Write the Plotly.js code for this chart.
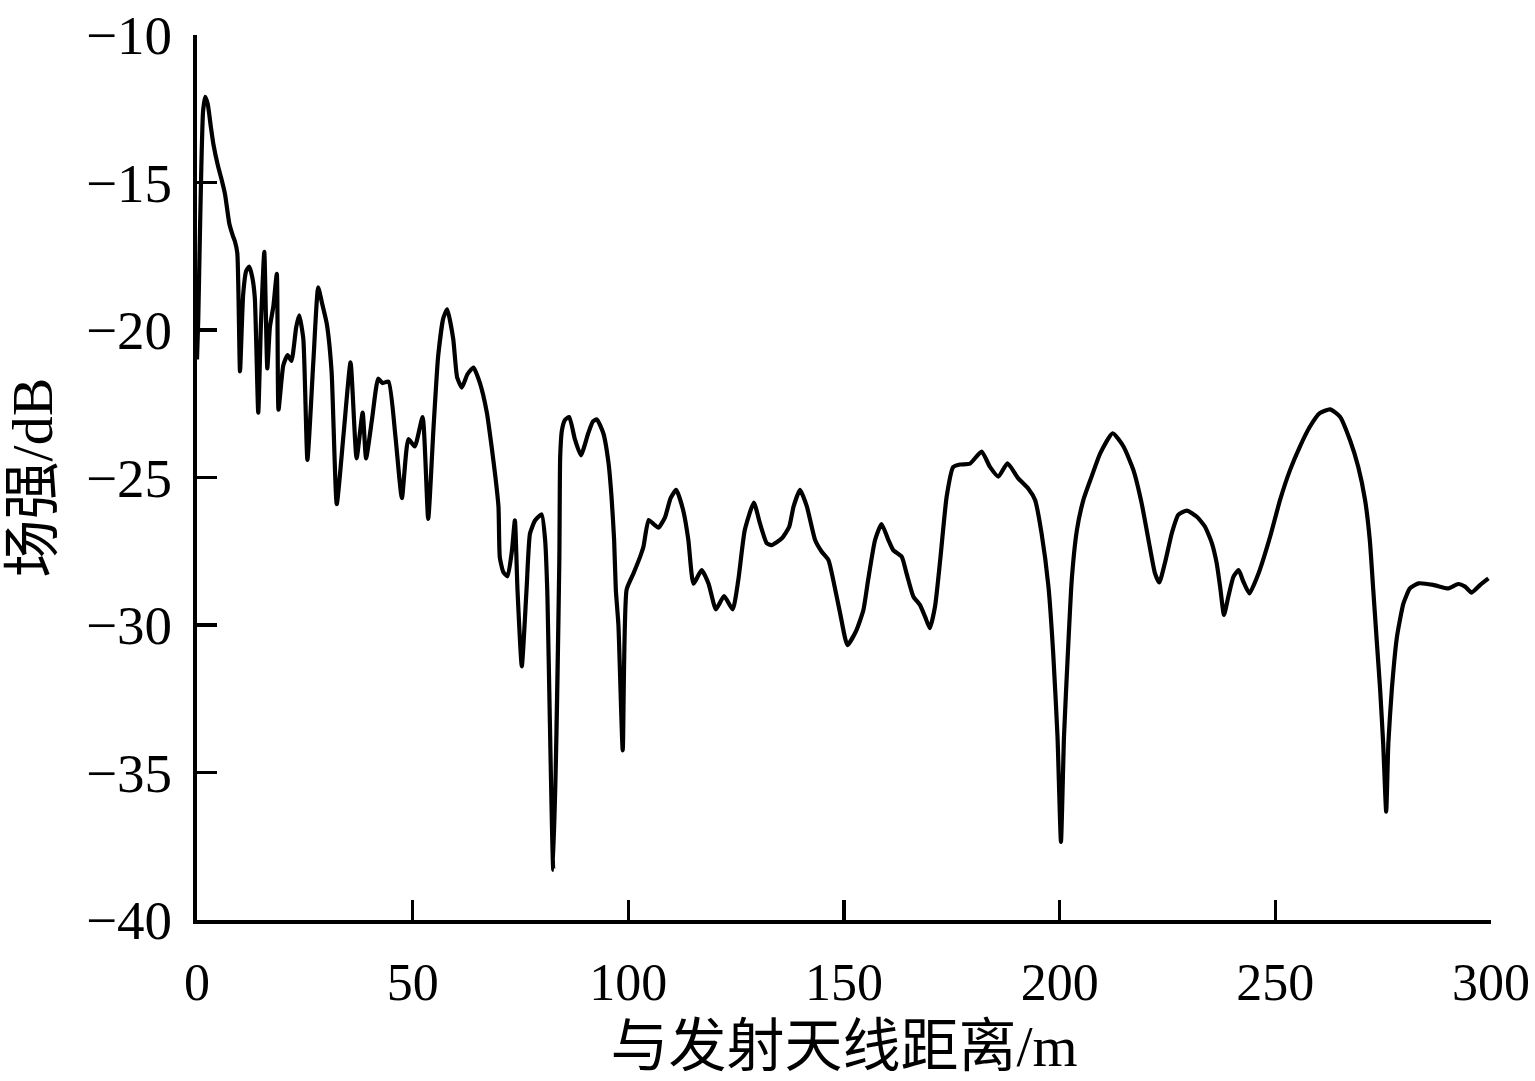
<!DOCTYPE html>
<html>
<head>
<meta charset="utf-8">
<script src="https://cdn.plot.ly/plotly-3.0.1.min.js"></script>
<style>html,body{margin:0;padding:0;background:#fff;}#chart{width:1535px;height:1081px;}</style>
</head>
<body>
<div id="chart"></div>
<script>
const distance = [0,0.3,0.6,1.0,1.4,1.9,2.5,3.2,3.8,4.8,5.7,6.5,7.5,8.3,8.8,9.35,9.97,10.7,11.4,12.1,12.8,13.4,14.2,14.8,15.6,16.3,16.9,17.7,18.5,18.9,20.0,21.0,21.9,23.0,23.7,24.65,25.6,27.0,28.1,29.0,30.1,31.2,32.4,34.0,35.6,37.0,38.4,39.2,40.6,42.0,43.0,44.4,46.0,47.5,49.0,50.5,52.3,53.6,54.8,55.9,57.1,58.0,59.4,60.3,61.4,62.7,64.1,65.6,67.2,68.3,69.2,69.9,70.2,71.0,72.0,73.0,73.7,74.3,75.3,76.4,77.2,78.4,79.9,80.7,81.2,82.6,84.0,84.2,84.6,85.3,86.3,87.6,89.0,90.7,91.8,92.7,94.2,95.4,96.1,96.7,97.1,97.7,98.7,99.6,101.2,102.7,103.5,104.7,106.0,107.0,108.5,109.8,111.1,112.7,113.9,115.1,117.0,118.6,120.3,122.2,124.2,125.5,127.0,129.1,130.5,132.1,133.2,135.6,137.3,138.3,139.8,141.4,143.3,144.8,146.4,147.5,149.1,150.8,152.9,154.5,155.6,157.2,158.7,160.3,161.4,163.4,164.5,166.1,167.6,168.8,169.9,171.1,172.3,173.8,175.3,176.9,179.2,181.9,183.8,185.8,187.9,190.4,192.7,194.3,195.8,197.4,198.5,199.5,200.3,201.0,201.9,202.8,204.0,205.5,207.4,209.4,212.3,214.8,217.1,219.0,220.6,222.1,223.1,224.4,226.0,227.5,229.5,231.8,233.7,235.3,236.4,237.2,238.1,239.1,240.3,241.5,242.5,244.0,246.1,248.8,251.1,253.4,255.7,258.0,260.3,262.7,265.0,267.3,269.2,270.8,271.9,272.7,273.5,274.3,275.0,275.7,276.2,277.0,278.2,279.7,281.2,283.2,286.6,290.1,292.4,294.0,295.5,297.5,299.4];
const fieldStrength = [-21.0,-19.6,-17.3,-14.5,-12.6,-12.1,-12.35,-13.1,-13.7,-14.4,-14.9,-15.4,-16.4,-16.8,-17.0,-17.4,-21.4,-18.8,-18.0,-17.85,-18.2,-18.9,-22.8,-19.9,-17.35,-21.3,-19.9,-19.2,-18.1,-22.7,-21.2,-20.85,-21.05,-19.9,-19.5,-20.3,-24.4,-21.0,-18.55,-19.1,-19.8,-21.4,-25.9,-23.5,-21.1,-24.35,-22.8,-24.35,-23.0,-21.65,-21.8,-21.75,-23.6,-25.7,-23.7,-23.95,-22.95,-26.4,-23.4,-20.9,-19.6,-19.3,-20.3,-21.6,-21.95,-21.5,-21.27,-21.8,-22.8,-23.95,-25.0,-26.0,-27.7,-28.2,-28.35,-27.5,-26.45,-28.8,-31.4,-28.8,-26.9,-26.45,-26.25,-27.1,-28.8,-38.3,-27.8,-24.3,-23.4,-23.05,-22.95,-23.7,-24.25,-23.5,-23.1,-23.03,-23.5,-24.5,-25.65,-27.1,-28.8,-30.0,-34.25,-28.8,-28.25,-27.7,-27.35,-26.44,-26.6,-26.7,-26.35,-25.7,-25.42,-26.1,-27.1,-28.6,-28.14,-28.6,-29.47,-29.02,-29.47,-28.47,-26.78,-25.85,-26.55,-27.23,-27.29,-27.06,-26.67,-25.99,-25.42,-25.99,-27.12,-27.51,-27.8,-28.47,-29.6,-30.68,-30.17,-29.49,-28.47,-27.12,-26.58,-27.12,-27.46,-27.69,-28.25,-29.04,-29.32,-29.72,-30.11,-29.38,-27.8,-25.65,-24.65,-24.56,-24.53,-24.12,-24.63,-24.97,-24.52,-25.03,-25.37,-25.76,-26.89,-28.7,-30.96,-33.79,-37.35,-33.79,-30.96,-28.47,-26.78,-25.76,-24.97,-24.18,-23.5,-23.95,-24.75,-25.87,-27.12,-28.25,-28.56,-27.9,-26.89,-26.27,-26.12,-26.33,-26.67,-27.23,-27.9,-28.7,-29.66,-29.04,-28.36,-28.14,-28.5,-28.93,-28.25,-27.0,-25.76,-24.75,-23.95,-23.28,-22.82,-22.69,-22.94,-23.73,-24.63,-25.76,-27.12,-28.81,-30.51,-32.2,-34.01,-36.33,-34.01,-32.2,-30.4,-29.27,-28.76,-28.59,-28.64,-28.76,-28.61,-28.7,-28.9,-28.64,-28.42];
const xTickVals = [0,50,100,150,200,250,300];
const yTickVals = [-40,-35,-30,-25,-20,-15,-10];
const xTitle = '与发射天线距离/m';
const yTitle = '场强/dB';

const serif = 'Liberation Serif, Times New Roman, Noto Sans CJK SC, serif';
const trace = {
  x: distance, y: fieldStrength, type: 'scatter', mode: 'lines',
  line: {color: '#000', width: 4.2, shape: 'spline', smoothing: 0.5},
  hoverinfo: 'skip'
};
const layout = {
  width: 1535, height: 1081,
  margin: {l: 197, r: 44, t: 35, b: 161},
  paper_bgcolor: '#fff', plot_bgcolor: '#fff',
  showlegend: false,
  font: {family: serif, color: '#000', size: 50},
  xaxis: {
    range: [0, 300], tickvals: xTickVals, ticks: 'inside', ticklen: 20, tickwidth: 3.5, tickcolor: '#000',
    showline: true, linewidth: 4, linecolor: '#000', showgrid: false, zeroline: false,
    ticklabelstandoff: 14,
    tickfont: {family: serif, size: 52, color: '#000'},
    title: {text: xTitle, standoff: 16, font: {family: serif, size: 58, color: '#000'}}
  },
  yaxis: {
    range: [-40, -10], tickvals: yTickVals, ticks: 'inside', ticklen: 20, tickwidth: 3.5, tickcolor: '#000',
    showline: true, linewidth: 4, linecolor: '#000', showgrid: false, zeroline: false,
    ticklabelstandoff: 10,
    tickfont: {family: serif, size: 55, color: '#000'},
    title: {text: yTitle, standoff: 18, font: {family: serif, size: 58, color: '#000'}}
  }
};
Plotly.newPlot('chart', [trace], layout, {staticPlot: true, displayModeBar: false});
</script>
</body>
</html>
